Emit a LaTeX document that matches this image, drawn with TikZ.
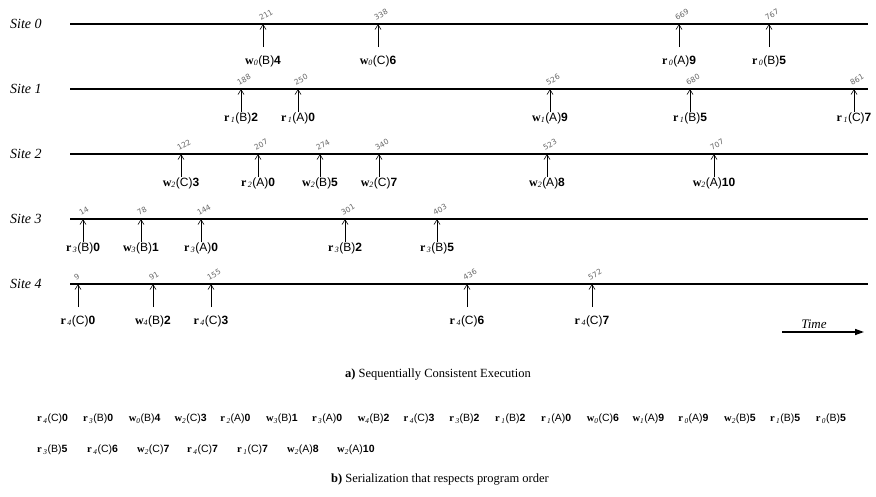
\documentclass[tikz,border=0pt]{standalone}
\usepackage{fontspec}
\setmainfont{Liberation Serif}
\setsansfont{Liberation Sans}
\newfontfamily\stampfont{DejaVu Sans}
\usetikzlibrary{positioning, arrows.meta}

% one read / write operation: op_site(item)value
\newcommand{\opR}[3]{\textbf{r}\kern1.5pt\textsubscript{\textit{#1}}\textsf{(#2)}\textsf{\bfseries #3}}
\newcommand{\opW}[3]{\textbf{w}\textsubscript{\textit{#1}}\textsf{(#2)}\textsf{\bfseries #3}}

% events of one site: #1 site, #2 line y, #3 label y, #4 list x/stamp/label
\newcommand{\siteevents}[4]{%
  \foreach \x/\n/\lab [count=\i] in {#4} {
    \coordinate (h#1-\i) at (\x,#2);
    \coordinate (f#1-\i) at (\x,#2+23);
    \draw[evarrow] (f#1-\i) -- (h#1-\i);
    \node[stamp] (n#1-\i) at ([shift={(-2,-2.5)}]h#1-\i) {\n};
    \node[oplbl] (o#1-\i) at (\x,#3) {\lab};
  }}

\begin{document}
\begin{tikzpicture}[x=1pt, y=-1pt,
  site/.style={font=\fontsize{14}{16}\selectfont\itshape, anchor=west, inner sep=0pt},
  axis/.style={line width=1.1pt},
  evarrow/.style={line width=0.6pt, -{Straight Barb[length=5pt, width=6pt]}},
  stamp/.style={font=\stampfont\fontsize{7.5}{8}\selectfont, text=black!60,
    rotate=30, anchor=south west, inner sep=0.3pt},
  oplbl/.style={font=\fontsize{12}{14}\selectfont, inner sep=0pt},
  seritem/.style={font=\fontsize{10.5}{12}\selectfont, anchor=west, inner sep=0pt},
  caption/.style={font=\fontsize{12.5}{14}\selectfont, inner sep=0pt},
]
  \useasboundingbox (0,0) rectangle (876,496);

  % time lines of the sites
  \foreach \s/\y in {0/24, 1/89, 2/154, 3/219, 4/284} {
    \node[site] (site\s) at (10,\y) {Site \s};
    \coordinate (beg\s) at (70,\y);
    \coordinate (end\s) at (868,\y);
    \draw[axis] (beg\s) -- (end\s);
  }

  \siteevents{0}{24}{61}{263/211/{\opW{0}{B}{4}}, 378/338/{\opW{0}{C}{6}},
    679/669/{\opR{0}{A}{9}}, 769/767/{\opR{0}{B}{5}}}
  \siteevents{1}{89}{118}{241/188/{\opR{1}{B}{2}}, 298/250/{\opR{1}{A}{0}},
    550/526/{\opW{1}{A}{9}}, 690/680/{\opR{1}{B}{5}}, 854/861/{\opR{1}{C}{7}}}
  \siteevents{2}{154}{183}{181/122/{\opW{2}{C}{3}}, 258/207/{\opR{2}{A}{0}},
    320/274/{\opW{2}{B}{5}}, 379/340/{\opW{2}{C}{7}}, 547/523/{\opW{2}{A}{8}},
    714/707/{\opW{2}{A}{10}}}
  \siteevents{3}{219}{248}{83/14/{\opR{3}{B}{0}}, 141/78/{\opW{3}{B}{1}},
    201/144/{\opR{3}{A}{0}}, 345/301/{\opR{3}{B}{2}}, 437/403/{\opR{3}{B}{5}}}
  \siteevents{4}{284}{321}{78/9/{\opR{4}{C}{0}}, 153/91/{\opW{4}{B}{2}},
    211/155/{\opR{4}{C}{3}}, 467/436/{\opR{4}{C}{6}}, 592/572/{\opR{4}{C}{7}}}

  % time arrow
  \coordinate (tbeg) at (782,332);
  \coordinate (tend) at (864,332);
  \draw[line width=1.4pt, -{Triangle[length=9pt, width=6pt]}] (tbeg) -- (tend);
  \node[font=\fontsize{13}{15}\selectfont\itshape, inner sep=0pt] (time) at (814,324) {Time};

  \node[caption] (capA) at (438,375) {\textbf{a)}\ Sequentially Consistent Execution};

  % serialization
  \foreach \lab [count=\i] in {{\opR{4}{C}{0}}, {\opR{3}{B}{0}}, {\opW{0}{B}{4}},
    {\opW{2}{C}{3}}, {\opR{2}{A}{0}}, {\opW{3}{B}{1}}, {\opR{3}{A}{0}}, {\opW{4}{B}{2}},
    {\opR{4}{C}{3}}, {\opR{3}{B}{2}}, {\opR{1}{B}{2}}, {\opR{1}{A}{0}}, {\opW{0}{C}{6}},
    {\opW{1}{A}{9}}, {\opR{0}{A}{9}}, {\opW{2}{B}{5}}, {\opR{1}{B}{5}}, {\opR{0}{B}{5}}}
    \node[seritem] (sa\i) at ({37+45.8*(\i-1)},419) {\lab};
  \foreach \lab [count=\i] in {{\opR{3}{B}{5}}, {\opR{4}{C}{6}}, {\opW{2}{C}{7}},
    {\opR{4}{C}{7}}, {\opR{1}{C}{7}}, {\opW{2}{A}{8}}, {\opW{2}{A}{10}}}
    \node[seritem] (sb\i) at ({37+50*(\i-1)},450) {\lab};

  \node[caption] (capB) at (440,480) {\textbf{b)}\ Serialization that respects program order};
\end{tikzpicture}
\end{document}
